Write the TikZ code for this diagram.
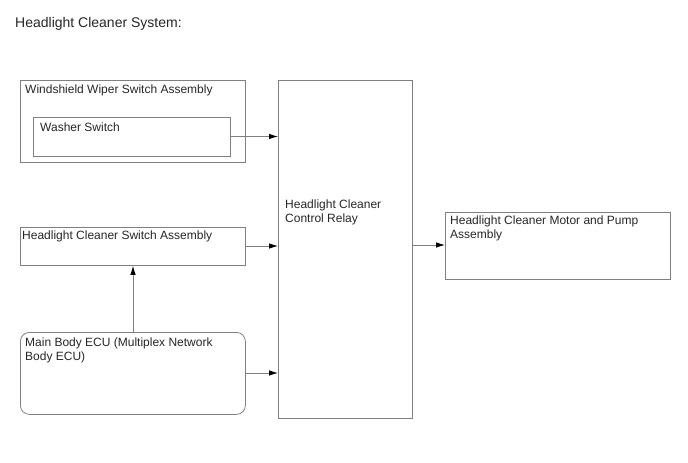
\documentclass[tikz,border=0pt]{standalone}
\usepackage{fontspec}
\setmainfont{Liberation Sans}
\usetikzlibrary{arrows.meta}
\begin{document}
\begin{tikzpicture}[x=1pt,y=-1pt,
  box/.style={draw=black!50, line width=0.8pt, anchor=north west, inner sep=0pt},
  txt/.style={anchor=north west, inner sep=0pt, font=\fontsize{12}{14}\selectfont, align=left, text=black!85},
  arr/.style={draw=black!50, line width=0.8pt, -{Latex[length=9pt,width=5.5pt,black]}}]
\useasboundingbox (0,0) rectangle (688,463);
\node[anchor=north west, inner sep=0pt, font=\fontsize{14}{16}\selectfont, text=black!85] (title) at (15,17) {Headlight Cleaner System:};
% boxes
\node[box, minimum width=225pt, minimum height=82pt] (wiper) at (20,80) {};
\node[txt] (wipert) at (25,85) {Windshield Wiper Switch Assembly};
\node[box, minimum width=197pt, minimum height=39pt] (washer) at (33,117) {};
\node[txt] (washert) at (40,123) {Washer Switch};
\node[box, minimum width=225pt, minimum height=38pt] (hcs) at (20,227) {};
\node[txt] (hcst) at (22,231) {Headlight Cleaner Switch Assembly};
\node[box, rounded corners=9pt, minimum width=225pt, minimum height=82pt] (ecu) at (20,332) {};
\node[txt] (ecut) at (25,338) {Main Body ECU (Multiplex Network\\Body ECU)};
\node[box, minimum width=134pt, minimum height=338pt] (relay) at (278,80) {};
\node[txt] (relayt) at (285,200) {Headlight Cleaner\\Control Relay};
\node[box, minimum width=225pt, minimum height=67pt] (motor) at (445,212) {};
\node[txt] (motort) at (450,216) {Headlight Cleaner Motor and Pump\\Assembly};
% connectors
\coordinate (a1) at (washer.east |- 0,136.5);
\draw[arr] (a1) -- (a1 -| relay.west);
\coordinate (a2) at (hcs.east |- 0,246);
\draw[arr] (a2) -- (a2 -| relay.west);
\coordinate (a3) at (ecu.east |- 0,373);
\draw[arr] (a3) -- (a3 -| relay.west);
\coordinate (a4) at (relay.east |- 0,245);
\draw[arr] (a4) -- (a4 -| motor.west);
\coordinate (a5) at (133,0);
\draw[arr] (a5 |- ecu.north) -- (a5 |- hcs.south);
\end{tikzpicture}
\end{document}
